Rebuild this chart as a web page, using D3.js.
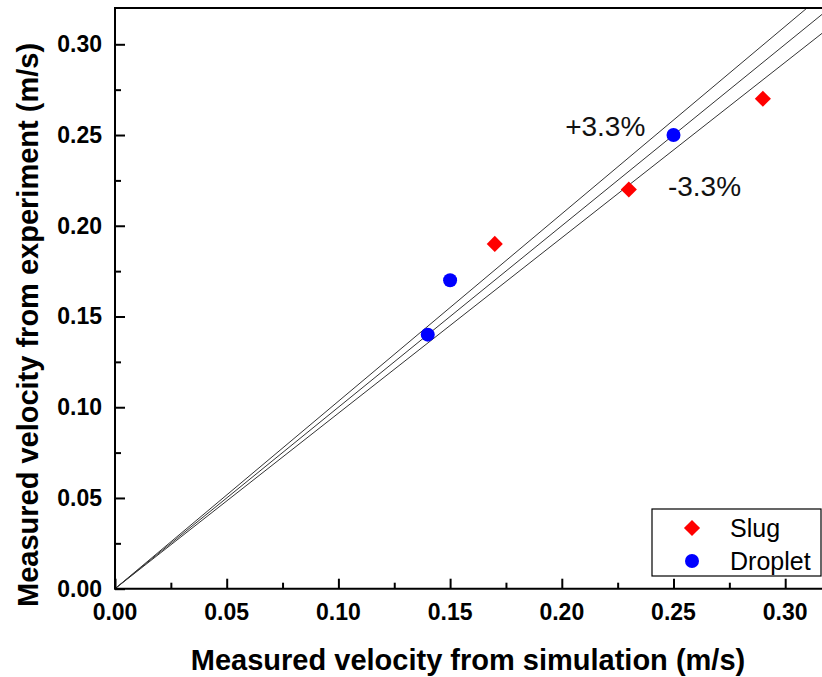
<!DOCTYPE html>
<html>
<head>
<meta charset="utf-8">
<script src="https://cdn.jsdelivr.net/npm/d3@7"></script>
<style>
  body { margin: 0; background: #fff; }
  svg { display: block; font-family: Arial, "Liberation Sans", sans-serif; }
</style>
</head>
<body>
<div id="wrapper"></div>
<script>
// data
const slugX = [0.17, 0.23, 0.29]
const slugY = [0.19, 0.22, 0.27]
const dropletX = [0.14, 0.15, 0.25]
const dropletY = [0.14, 0.17, 0.25]
const majorTicks = [0.00, 0.05, 0.10, 0.15, 0.20, 0.25, 0.30]
const minorTicks = [0.025, 0.075, 0.125, 0.175, 0.225, 0.275]
// reference lines: y = x, +3.3%, -3.3%
const lineSlopes = [1, 1.033, 0.967]
const bandLabels = [
  { text: "+3.3%", x: 0.2015, y: 0.2495 },
  { text: "-3.3%", x: 0.2475, y: 0.2165 },
]

function drawChart() {
  let dimensions = {
    width: 822,
    height: 677,
    margin: { top: 8, left: 115 },
  }
  // the frame runs off the right edge of the picture (0.32 at x = 830)
  dimensions.boundedWidth = 0.32 / 0.05 * 111.7
  dimensions.boundedHeight = 580.7

  const wrapper = d3.select("#wrapper")
    .append("svg")
      .attr("width", dimensions.width)
      .attr("height", dimensions.height)

  const bounds = wrapper.append("g")
      .attr("transform", `translate(${dimensions.margin.left}, ${dimensions.margin.top})`)

  const xScale = d3.scaleLinear()
    .domain([0, 0.32])
    .range([0, dimensions.boundedWidth])

  const yScale = d3.scaleLinear()
    .domain([0, 0.32])
    .range([dimensions.boundedHeight, 0])

  // reference lines
  const lineGen = d3.line()
    .x(d => xScale(d[0]))
    .y(d => yScale(d[1]))

  bounds.append("clipPath")
      .attr("id", "plot-clip")
    .append("rect")
      .attr("width", dimensions.boundedWidth)
      .attr("height", dimensions.boundedHeight)

  bounds.append("g")
      .attr("clip-path", "url(#plot-clip)")
    .selectAll("path")
    .data(lineSlopes)
    .join("path")
      .attr("d", k => lineGen([[0, 0], [0.4, 0.4 * k]]))
      .attr("fill", "none")
      .attr("stroke", "#333")
      .attr("stroke-width", 1)

  // points
  const slug = slugX.map((x, i) => ({ x, y: slugY[i] }))
  const droplet = dropletX.map((x, i) => ({ x, y: dropletY[i] }))

  const diamond = d3.symbol().type(d3.symbolSquare).size(130)

  bounds.selectAll(".slug")
    .data(slug)
    .join("path")
      .attr("class", "slug")
      .attr("d", diamond)
      .attr("transform", d => `translate(${xScale(d.x)}, ${yScale(d.y)}) rotate(45)`)
      .attr("fill", "#ff0000")

  bounds.selectAll(".droplet")
    .data(droplet)
    .join("circle")
      .attr("class", "droplet")
      .attr("cx", d => xScale(d.x))
      .attr("cy", d => yScale(d.y))
      .attr("r", 7)
      .attr("fill", "#0000ff")

  // band labels
  bounds.selectAll(".band-label")
    .data(bandLabels)
    .join("text")
      .attr("class", "band-label")
      .attr("x", d => xScale(d.x))
      .attr("y", d => yScale(d.y))
      .attr("font-size", 28)
      .attr("fill", "#111")
      .text(d => d.text)

  // axes, ticks pointing inwards (major and minor in their own groups)
  const xAxis = bounds.append("g")
      .attr("transform", `translate(0, ${dimensions.boundedHeight})`)
  xAxis.append("g")
      .call(d3.axisTop(xScale).tickValues(majorTicks).tickSize(10).tickFormat(""))
  xAxis.append("g")
      .call(d3.axisTop(xScale).tickValues(minorTicks).tickSize(6).tickFormat(""))
  xAxis.selectAll(".domain").remove()
  xAxis.selectAll("line").attr("stroke", "#000").attr("stroke-width", 2)
  xAxis.append("g").selectAll("text")
    .data(majorTicks)
    .join("text")
      .attr("x", d => xScale(d))
      .attr("y", 31)
      .attr("text-anchor", "middle")
      .attr("font-size", 23)
      .attr("font-weight", "bold")
      .attr("fill", "#000")
      .text(d3.format(".2f"))

  const yAxis = bounds.append("g")
  yAxis.append("g")
      .call(d3.axisRight(yScale).tickValues(majorTicks).tickSize(10).tickFormat(""))
  yAxis.append("g")
      .call(d3.axisRight(yScale).tickValues(minorTicks).tickSize(6).tickFormat(""))
  yAxis.selectAll(".domain").remove()
  yAxis.selectAll("line").attr("stroke", "#000").attr("stroke-width", 2)
  yAxis.append("g").selectAll("text")
    .data(majorTicks)
    .join("text")
      .attr("x", -13)
      .attr("y", d => yScale(d) + 8)
      .attr("text-anchor", "end")
      .attr("font-size", 23)
      .attr("font-weight", "bold")
      .attr("fill", "#000")
      .text(d3.format(".2f"))

  // frame: left, bottom and top (right side is off the picture)
  bounds.append("path")
      .attr("d", `M${dimensions.boundedWidth},0 H0 V${dimensions.boundedHeight} H${dimensions.boundedWidth}`)
      .attr("fill", "none")
      .attr("stroke", "#000")
      .attr("stroke-width", 2)

  // legend
  const legend = wrapper.append("g")
      .attr("transform", "translate(652, 509)")
  legend.append("rect")
      .attr("width", 169)
      .attr("height", 67)
      .attr("fill", "#fff")
      .attr("stroke", "#000")
      .attr("stroke-width", 1.2)
  legend.append("path")
      .attr("d", diamond)
      .attr("transform", "translate(40, 19) rotate(45)")
      .attr("fill", "#ff0000")
  legend.append("circle")
      .attr("cx", 40)
      .attr("cy", 52)
      .attr("r", 7)
      .attr("fill", "#0000ff")
  legend.append("text")
      .attr("x", 78)
      .attr("y", 28)
      .attr("font-size", 25)
      .text("Slug")
  legend.append("text")
      .attr("x", 78)
      .attr("y", 61)
      .attr("font-size", 25)
      .text("Droplet")

  // axis titles
  wrapper.append("text")
      .attr("x", 468)
      .attr("y", 670)
      .attr("text-anchor", "middle")
      .attr("font-size", 29)
      .attr("font-weight", "bold")
      .text("Measured velocity from simulation (m/s)")

  wrapper.append("text")
      .attr("transform", "translate(38, 325) rotate(-90)")
      .attr("text-anchor", "middle")
      .attr("font-size", 29)
      .attr("font-weight", "bold")
      .text("Measured velocity from experiment (m/s)")
}

drawChart()
</script>
</body>
</html>
